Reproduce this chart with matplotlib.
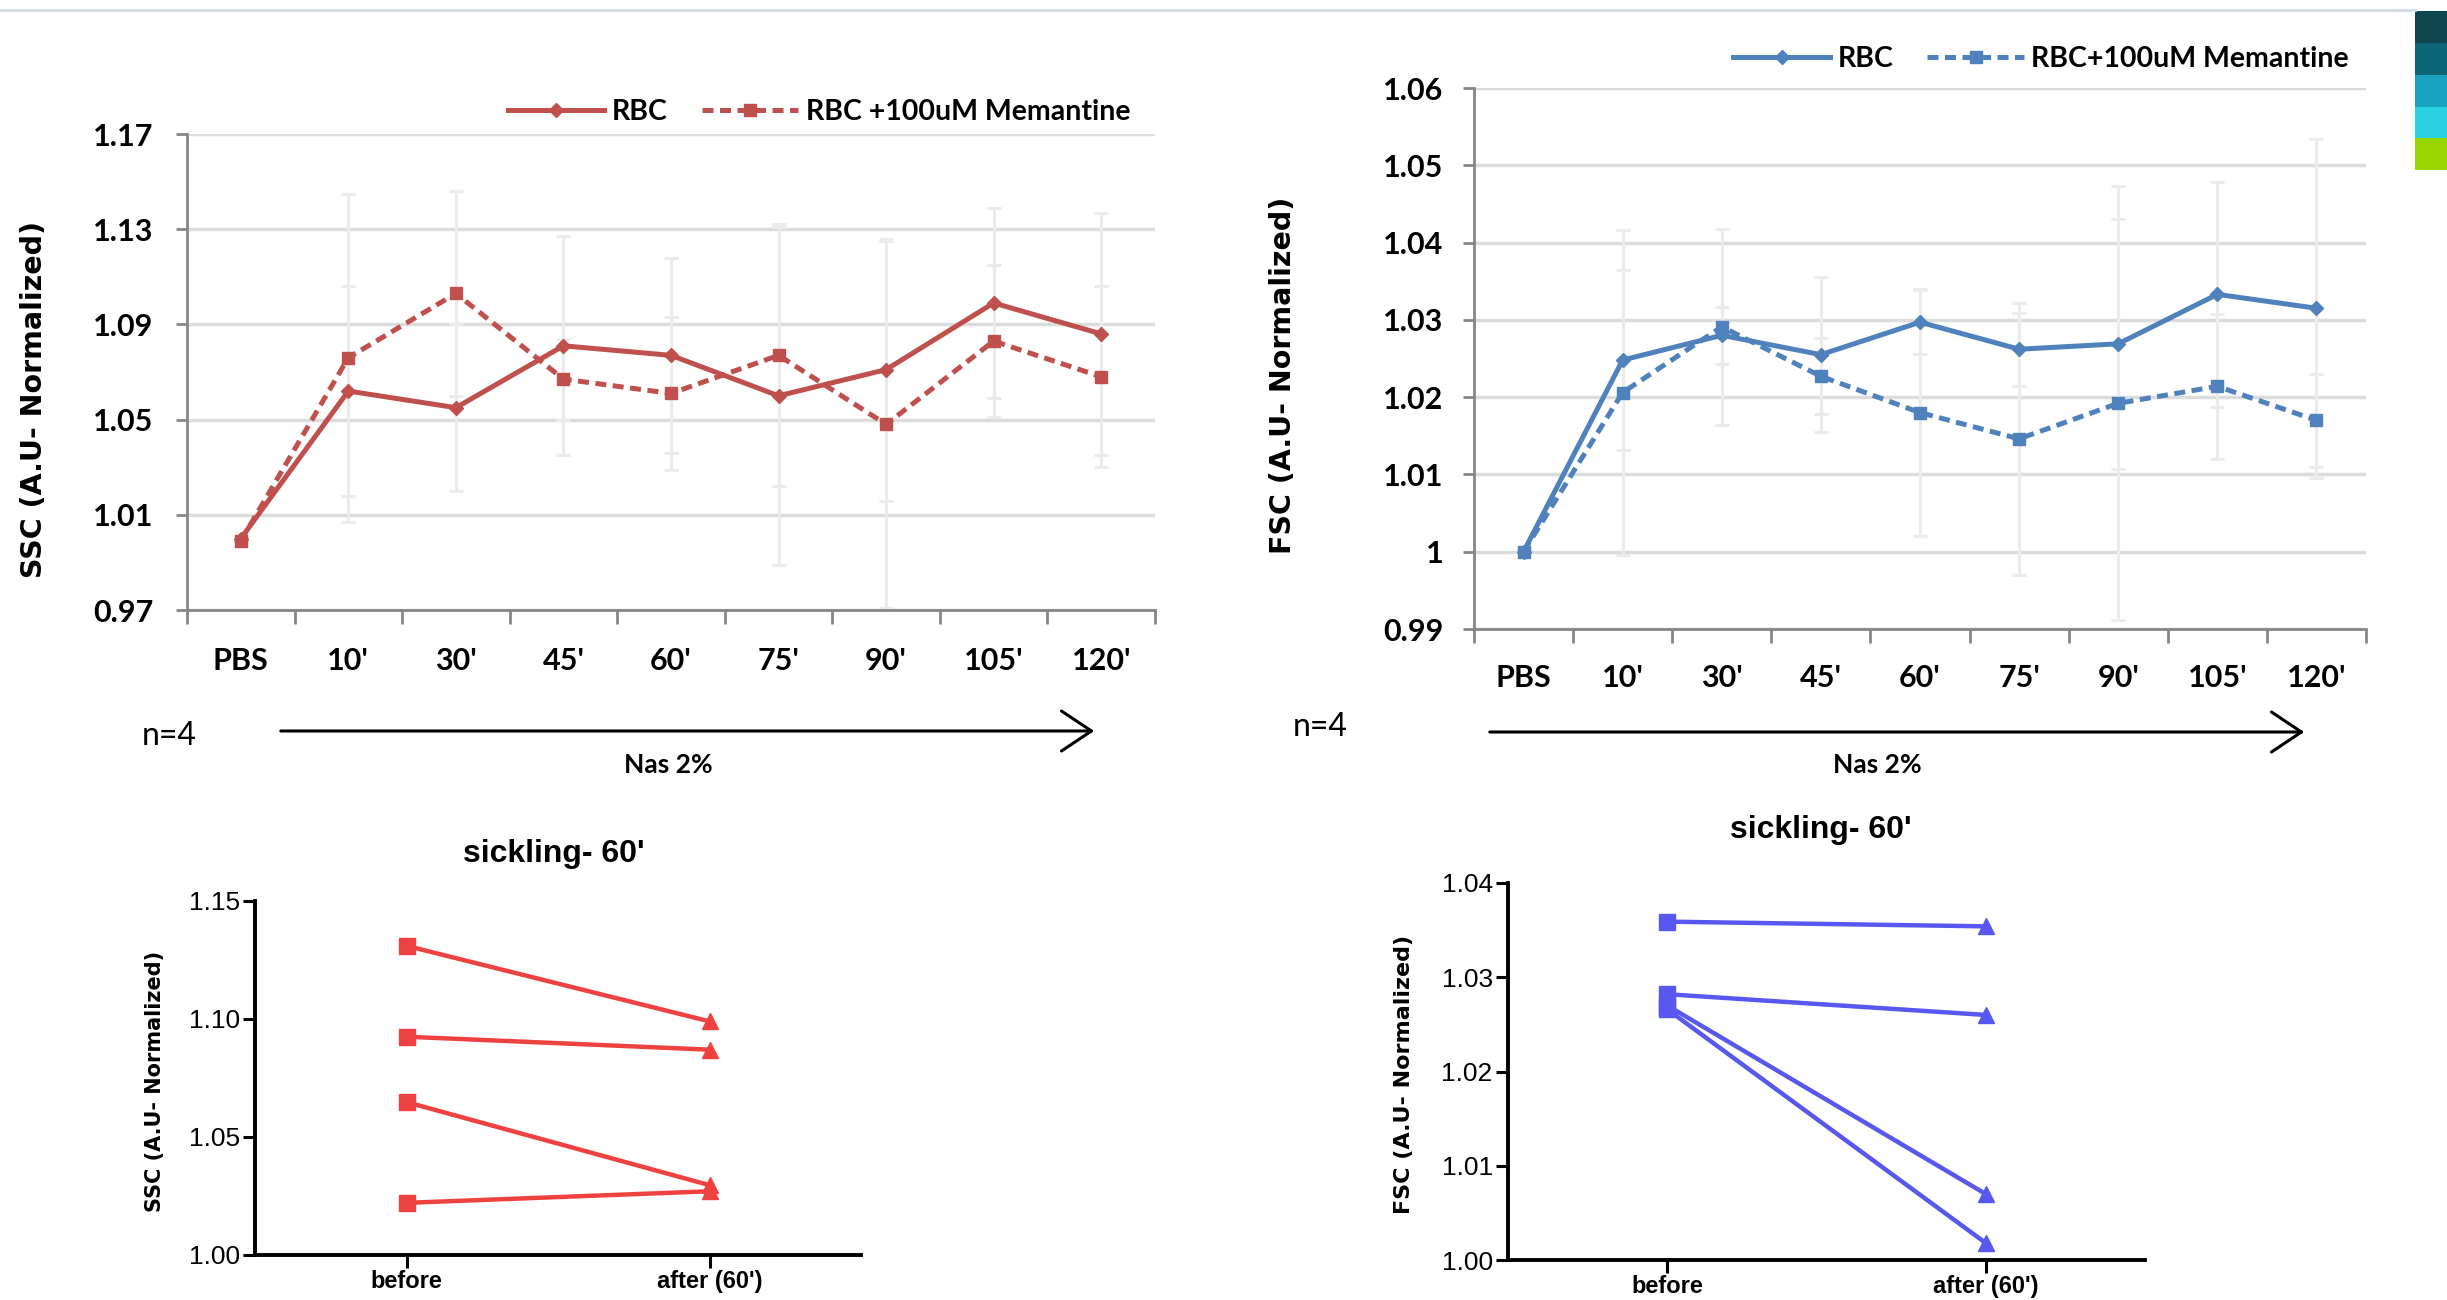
import matplotlib
matplotlib.use('Agg')
import matplotlib.pyplot as plt
from matplotlib.patches import Rectangle, FancyArrowPatch
from matplotlib.lines import Line2D
import numpy as np

# ---------------- data ----------------
categories = ["PBS", "10'", "30'", "45'", "60'", "75'", "90'", "105'", "120'"]

ssc_rbc = [1.000, 1.062, 1.055, 1.081, 1.077, 1.060, 1.071, 1.099, 1.086]
ssc_rbc_err = [0.0, 0.044, 0.035, 0.046, 0.041, 0.071, 0.055, 0.040, 0.051]
ssc_mem = [0.999, 1.076, 1.103, 1.067, 1.061, 1.077, 1.048, 1.083, 1.068]
ssc_mem_err = [0.0, 0.069, 0.043, 0.017, 0.032, 0.055, 0.077, 0.032, 0.038]

fsc_rbc = [1.000, 1.0248, 1.0280, 1.0255, 1.0297, 1.0262, 1.0269, 1.0333, 1.0315]
fsc_rbc_err = [0.0, 0.0117, 0.0037, 0.0100, 0.0041, 0.0047, 0.0162, 0.0146, 0.0219]
fsc_mem = [1.000, 1.0206, 1.0291, 1.0227, 1.0180, 1.0146, 1.0192, 1.0214, 1.0170]
fsc_mem_err = [0.0, 0.0210, 0.0127, 0.0049, 0.0160, 0.0176, 0.0281, 0.0094, 0.0060]

ssc_yticks = [0.97, 1.01, 1.05, 1.09, 1.13, 1.17]
ssc_yticklabels = ["0.97", "1.01", "1.05", "1.09", "1.13", "1.17"]
fsc_yticks = [0.99, 1.00, 1.01, 1.02, 1.03, 1.04, 1.05, 1.06]
fsc_yticklabels = ["0.99", "1", "1.01", "1.02", "1.03", "1.04", "1.05", "1.06"]

pair_labels = ["before", "after (60')"]
ssc_before = [1.131, 1.0925, 1.0648, 1.0221]
ssc_after = [1.099, 1.087, 1.0296, 1.027]
fsc_before = [1.0359, 1.0282, 1.0270, 1.0266]
fsc_after = [1.0354, 1.0260, 1.0070, 1.0018]
ssc_pair_yticks = [1.00, 1.05, 1.10, 1.15]
ssc_pair_yticklabels = ["1.00", "1.05", "1.10", "1.15"]
fsc_pair_yticks = [1.00, 1.01, 1.02, 1.03, 1.04]
fsc_pair_yticklabels = ["1.00", "1.01", "1.02", "1.03", "1.04"]

# ---------------- figure ----------------
W, H = 2447, 1300
fig = plt.figure(figsize=(W / 100, H / 100), dpi=100)
fig.patch.set_facecolor('white')


def rect(left, top, right, bottom):
    return [left / W, 1 - bottom / H, (right - left) / W, (bottom - top) / H]


def fx(x):
    return x / W


def fy(y):
    return 1 - y / H


TOPFONT = ['Lato', 'DejaVu Sans']
LABFONT = ['DejaVu Sans']
ARIAL = ['Liberation Sans', 'DejaVu Sans']


def top_chart(r, rbc, rbc_err, mem, mem_err, color, ylim, yticks, yticklabels,
              mem_label, legend_right, legend_y, ypad, xpad):
    ax = fig.add_axes(r)
    x = np.arange(len(categories))
    ax.errorbar(x, rbc, yerr=rbc_err, fmt='none', ecolor='#EBEBEB', elinewidth=2.2,
                capsize=5, capthick=2.2, zorder=2)
    ax.errorbar(x, mem, yerr=mem_err, fmt='none', ecolor='#EBEBEB', elinewidth=2.2,
                capsize=5, capthick=2.2, zorder=2)
    ax.plot(x, rbc, '-', color=color, lw=3.6, marker='D', ms=7, zorder=5, label='RBC',
            clip_on=False)
    ax.plot(x, mem, '--', color=color, lw=3.6, marker='s', ms=9, zorder=4,
            dashes=(2.2, 1.3), label=mem_label, clip_on=False)
    ax.set_xlim(-0.5, len(categories) - 0.5)
    ax.set_ylim(*ylim)
    ax.set_yticks(yticks)
    ax.set_yticklabels(yticklabels, fontfamily=TOPFONT, fontweight='bold', fontsize=22)
    ax.set_xticks(x)
    ax.set_xticklabels(categories, fontfamily=TOPFONT, fontweight='bold', fontsize=22)
    ax.set_xticks(np.arange(-0.5, len(categories)), minor=True)
    ax.tick_params(axis='x', which='major', length=0, pad=xpad)
    ax.tick_params(axis='x', which='minor', length=10, width=2, color='#868686')
    ax.tick_params(axis='y', length=8, width=2, color='#868686', pad=ypad)
    ax.yaxis.grid(True, color='#DCDCDC', lw=2.5)
    ax.set_axisbelow(True)
    for s in ['top', 'right']:
        ax.spines[s].set_visible(False)
    for s in ['left', 'bottom']:
        ax.spines[s].set_color('#868686')
        ax.spines[s].set_linewidth(2)
    ax.legend(loc='center right', bbox_to_anchor=(fx(legend_right), fy(legend_y)),
              bbox_transform=fig.transFigure, ncol=2, frameon=False,
              handlelength=3.4, columnspacing=1.2, handletextpad=0.25,
              borderpad=0, borderaxespad=0,
              prop={'family': TOPFONT, 'weight': 'bold', 'size': 20.5})
    return ax


top_chart(rect(187, 134, 1155, 610), ssc_rbc, ssc_rbc_err, ssc_mem, ssc_mem_err,
          '#C0504D', (0.97, 1.17), ssc_yticks, ssc_yticklabels,
          'RBC +100uM Memantine', 1130, 112, 16, 27)
top_chart(rect(1474, 88, 2366, 629), fsc_rbc, fsc_rbc_err, fsc_mem, fsc_mem_err,
          '#4F81BD', (0.99, 1.06), fsc_yticks, fsc_yticklabels,
          'RBC+100uM Memantine', 2349, 59, 14, 25)

# y labels of top charts
fig.text(fx(34), fy(399), 'SSC (A.U- Normalized)', rotation=90, ha='center', va='center',
         fontfamily=LABFONT, fontweight='bold', fontsize=20.5)
fig.text(fx(1283), fy(375), 'FSC (A.U- Normalized)', rotation=90, ha='center', va='center',
         fontfamily=LABFONT, fontweight='bold', fontsize=20.5)

# n=4, arrows, Nas 2%
for (nx, ny, ax0, ax1, ay, tx, ty) in [(169, 736, 278, 1097, 731, 668, 765),
                                       (1320, 727, 1487, 2307, 732, 1877, 765)]:
    fig.text(fx(nx), fy(ny), 'n=4', ha='center', va='center', fontfamily=TOPFONT,
             fontsize=23)
    arr = FancyArrowPatch((fx(ax0), fy(ay)), (fx(ax1), fy(ay)), transform=fig.transFigure,
                          arrowstyle='->,head_length=1.2,head_width=0.8', mutation_scale=18,
                          lw=2.2, color='black')
    fig.add_artist(arr)
    fig.text(fx(tx), fy(ty), 'Nas 2%', ha='center', va='center', fontfamily=TOPFONT,
             fontweight='bold', fontsize=19)


def pair_chart(r, before, after, color, ylim, yticks, yticklabels):
    ax = fig.add_axes(r)
    for b, a in zip(before, after):
        ax.plot([0, 1], [b, a], '-', color=color, lw=3.2, zorder=3, clip_on=False)
    ax.plot(np.zeros(len(before)), before, 's', color=color, ms=11, zorder=4, clip_on=False,
            ls='none')
    ax.plot(np.ones(len(after)), after, '^', color=color, ms=12, zorder=4, clip_on=False,
            ls='none')
    ax.set_xlim(-0.5, 1.5)
    ax.set_ylim(*ylim)
    ax.set_yticks(yticks)
    ax.set_yticklabels(yticklabels, fontfamily=ARIAL, fontsize=19)
    ax.set_xticks([0, 1])
    ax.set_xticklabels(pair_labels, fontfamily=ARIAL, fontweight='bold', fontsize=17)
    ax.tick_params(axis='both', length=9, width=2.2, color='black', pad=2)
    for s in ['top', 'right']:
        ax.spines[s].set_visible(False)
    for s in ['left', 'bottom']:
        ax.spines[s].set_color('black')
        ax.spines[s].set_linewidth(2.8)
    return ax


pair_chart(rect(255, 901, 861, 1255), ssc_before, ssc_after, '#F04141', (1.00, 1.15),
           ssc_pair_yticks, ssc_pair_yticklabels)
pair_chart(rect(1508, 883, 2145, 1260), fsc_before, fsc_after, '#5858F0', (1.00, 1.04),
           fsc_pair_yticks, fsc_pair_yticklabels)

fig.text(fx(554), fy(854), "sickling- 60'", ha='center', va='center', fontfamily=ARIAL,
         fontweight='bold', fontsize=23)
fig.text(fx(1821), fy(830), "sickling- 60'", ha='center', va='center', fontfamily=ARIAL,
         fontweight='bold', fontsize=23)
fig.text(fx(155), fy(1081), 'SSC (A.U- Normalized)', rotation=90, ha='center', va='center',
         fontfamily=LABFONT, fontweight='bold', fontsize=15)
fig.text(fx(1404), fy(1074), 'FSC (A.U- Normalized)', rotation=90, ha='center', va='center',
         fontfamily=LABFONT, fontweight='bold', fontsize=16)

# page decorations: top rule and coloured side tabs
fig.add_artist(Line2D([0, fx(2415)], [fy(10), fy(10)], transform=fig.transFigure,
                      color='#D3DDE8', lw=2))
tab_colors = ['#0E4650', '#0B6478', '#19A2BD', '#2AD2DF', '#99D500']
tab_edges = [11, 43, 75, 107, 138, 170]
for i, c in enumerate(tab_colors):
    fig.add_artist(Rectangle((fx(2415), fy(tab_edges[i + 1])), fx(2447) - fx(2415),
                             fy(tab_edges[i]) - fy(tab_edges[i + 1]),
                             transform=fig.transFigure, color=c, lw=0))

fig.savefig('out.png', dpi=100, facecolor='white')
